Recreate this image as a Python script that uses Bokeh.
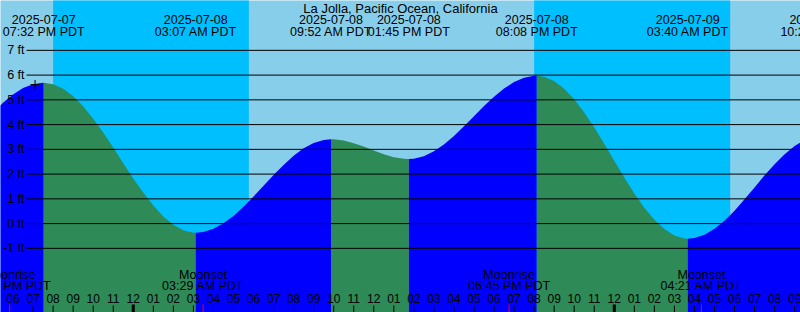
import pandas as pd
from bokeh.plotting import figure
from bokeh.models import Range1d
from bokeh.core.properties import value
from bokeh.embed import file_html
from bokeh.resources import INLINE

# ---------------- data ----------------
title = "La Jolla, Pacific Ocean, California"

# half-hourly tide heights (ft), 2025-07-07 17:00 .. 2025-07-09 10:00
reading_start = "2025-07-07 17:00"
reading_heights = [
    4.50, 4.88, 5.22, 5.48, 5.63, 5.69, 5.63, 5.45, 5.15, 4.74, 4.24, 3.68, 3.07, 2.44,  # 07-07 17:00..23:30
    1.82, 1.25, 0.73, 0.29, -0.05, -0.27, -0.37, -0.34, -0.21, 0.01, 0.31, 0.68,        # 07-08 00:00..05:30
    1.09, 1.53, 1.96, 2.37, 2.74, 3.04, 3.26, 3.38, 3.41, 3.36, 3.25, 3.11,             # 07-08 06:00..11:30
    2.95, 2.80, 2.68, 2.62, 2.62, 2.72, 2.92, 3.20, 3.54, 3.93, 4.34, 4.75,             # 07-08 12:00..17:30
    5.13, 5.46, 5.72, 5.89, 5.97, 5.93, 5.76, 5.45, 5.02, 4.49, 3.88, 3.23,             # 07-08 18:00..23:30
    2.54, 1.86, 1.22, 0.64, 0.16, -0.22, -0.48, -0.60, -0.58, -0.45, -0.21, 0.12,       # 07-09 00:00..05:30
    0.52, 0.98, 1.46, 1.95, 2.40, 2.80, 3.14, 3.37, 3.51,                               # 07-09 06:00..10:00
]

# high / low tides
event_times = ["2025-07-07 19:32", "2025-07-08 03:07", "2025-07-08 09:52",
               "2025-07-08 13:45", "2025-07-08 20:08", "2025-07-09 03:40",
               "2025-07-09 10:20"]
event_heights = [5.69, -0.37, 3.41, 2.61, 5.97, -0.61, 3.53]

# night (sunset -> sunrise)
night_starts = ["2025-07-07 20:00", "2025-07-08 20:00"]
night_ends = ["2025-07-08 05:46", "2025-07-09 05:47"]

# moon events
moon_times = ["2025-07-07 17:50", "2025-07-08 03:29", "2025-07-08 18:45", "2025-07-09 04:21"]
moon_kinds = ["Moonrise", "Moonset", "Moonrise", "Moonset"]

# current time marker
now_time = "2025-07-07 19:06"
now_height = 5.62

# height axis labels (ft)
ft_levels = [-1, 0, 1, 2, 3, 4, 5, 6, 7]

# hour labels shown along the bottom
hour_first = "2025-07-07 18:00"
hour_last = "2025-07-09 09:00"

# visible window
view_start = "2025-07-07 17:22:30"
view_end = "2025-07-09 09:17:30"

# ---------------- styles ----------------
DAY = "#87CEEB"
NIGHT = "#00BFFF"
RISING = "#0000FF"
FALLING = "#2E8B57"
FONT = value("Liberation Sans")
FS = value("12.5px")

W, H = 800, 312
FT_TOP, FT_BOT = 9.014, -3.592

p = figure(width=W, height=H,
           x_range=Range1d(pd.Timestamp(view_start).to_pydatetime(),
                           pd.Timestamp(view_end).to_pydatetime()),
           y_range=Range1d(FT_BOT, FT_TOP),
           x_axis_location=None, y_axis_location=None,
           output_backend="svg", toolbar_location=None,
           min_border=0, outline_line_color=None,
           background_fill_color=DAY)
p.grid.visible = False
p.extra_x_ranges = {"px": Range1d(0, W)}
p.extra_y_ranges = {"px": Range1d(H, 0)}

# night background
p.quad(left=pd.to_datetime(night_starts).values, right=pd.to_datetime(night_ends).values,
       bottom=FT_BOT - 2, top=FT_TOP + 2, color=NIGHT, line_color=None)

# water
rt = pd.date_range(reading_start, periods=len(reading_heights), freq="30min")
ev_t = pd.to_datetime(event_times)
df = pd.DataFrame({"t": list(rt) + list(ev_t), "h": reading_heights + event_heights})
df = df.sort_values("t").drop_duplicates("t").reset_index(drop=True)
bounds = [df.t.min()] + list(ev_t) + [df.t.max()]
for a, b in zip(bounds[:-1], bounds[1:]):
    seg = df[(df.t >= a) & (df.t <= b)]
    if len(seg) < 2:
        continue
    rising = seg.h.iloc[-1] > seg.h.iloc[0]
    p.varea(x=seg.t.values, y1=FT_BOT - 2, y2=seg.h.values,
            color=RISING if rising else FALLING)

# height grid lines and labels
p.segment(x0=[26] * len(ft_levels), x1=[W] * len(ft_levels), y0=ft_levels, y1=ft_levels,
          x_range_name="px", line_color="black", line_width=1)
p.text(x=[24] * len(ft_levels), y=ft_levels, text=[f"{v} ft" for v in ft_levels],
       x_range_name="px", text_font=FONT, text_font_size=FS, text_color="black",
       text_align="right", text_baseline="middle")

# now marker
p.scatter(x=[pd.Timestamp(now_time)], y=[now_height], marker="cross", size=9,
          line_color="black", line_width=1)

# title and tide event labels
p.text(x=[W / 2], y=[7.5], text=[title], x_range_name="px", y_range_name="px",
       text_font=FONT, text_font_size=value("13px"), text_align="center",
       text_baseline="middle", text_color="black")
p.text(x=ev_t.values, y=[19.3] * len(ev_t), text=list(ev_t.strftime("%Y-%m-%d")),
       y_range_name="px", text_font=FONT, text_font_size=FS, text_align="center",
       text_baseline="middle", text_color="black")
p.text(x=ev_t.values, y=[31.7] * len(ev_t), text=[s + " PDT" for s in ev_t.strftime("%I:%M %p")],
       y_range_name="px", text_font=FONT, text_font_size=FS, text_align="center",
       text_baseline="middle", text_color="black")

# moon labels
mt = pd.to_datetime(moon_times)
p.text(x=mt.values, y=[274] * len(mt), text=moon_kinds, y_range_name="px",
       text_font=FONT, text_font_size=FS, text_align="center", text_baseline="middle",
       text_color="black")
p.text(x=mt.values, y=[285.8] * len(mt), text=[s + " PDT" for s in mt.strftime("%I:%M %p")],
       y_range_name="px", text_font=FONT, text_font_size=FS, text_align="center",
       text_baseline="middle", text_color="black")

# hour labels and ticks
hours = pd.date_range(hour_first, hour_last, freq="h")
p.text(x=hours.values, y=[297.5] * len(hours), text=list(hours.strftime("%I")),
       y_range_name="px", text_font=FONT, text_font_size=value("12px"),
       text_align="center", text_baseline="middle", text_color="black")
tick_hours = hours[1:]
p.segment(x0=tick_hours.values, x1=tick_hours.values, y0=[305] * len(tick_hours),
          y1=[H] * len(tick_hours), y_range_name="px", line_color="black", line_width=1)
mid = hours[hours.hour == 0]
p.segment(x0=mid.values, x1=mid.values, y0=[304] * len(mid), y1=[H] * len(mid),
          y_range_name="px", line_color="black", line_width=3)
p.segment(x0=mt.values, x1=mt.values, y0=[304] * len(mt), y1=[H] * len(mt),
          y_range_name="px", line_color="#FF0000", line_width=1)

open("out.html", "w").write(file_html(p, INLINE))
